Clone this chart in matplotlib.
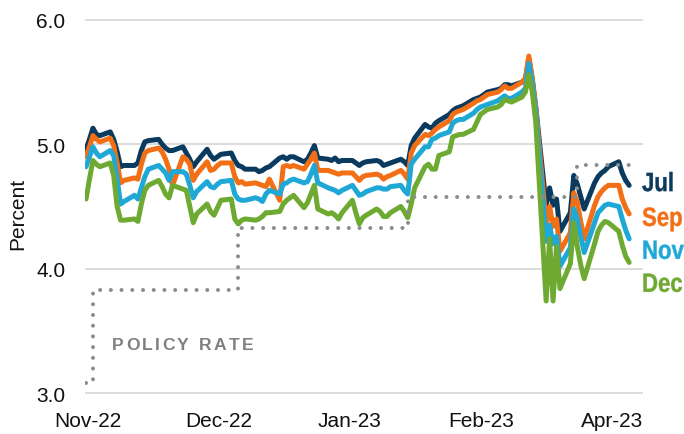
import matplotlib
matplotlib.use("Agg")
import matplotlib.pyplot as plt
import matplotlib.transforms as mtransforms
from matplotlib import font_manager
from matplotlib.font_manager import FontProperties
from matplotlib.textpath import TextPath
from matplotlib.patches import PathPatch
import pandas as pd

#-------------------------------------------------------------------------------
# DATA (fed funds futures implied rate, percent, one value per weekday)
#-------------------------------------------------------------------------------

DATES = pd.bdate_range("2022-10-31", "2023-04-06")

JUL = [4.96, 5.04, 5.13, 5.08, 5.07,
       5.10, 5.04, 4.94, 4.82, 4.83,
       4.83, 4.85, 4.95, 5.02, 5.03,
       5.04, 5.00, 4.97, 4.95, 4.95,
       4.98, 4.93, 4.88, 4.82, 4.86,
       4.96, 4.91, 4.88, 4.90, 4.92,
       4.93, 4.87, 4.83, 4.82, 4.80,
       4.80, 4.78, 4.79, 4.81, 4.82,
       4.89, 4.90, 4.88, 4.90, 4.90,
       4.86, 4.88, 4.93, 4.99, 4.89,
       4.88, 4.87, 4.89, 4.86, 4.87,
       4.87, 4.85, 4.83, 4.85, 4.86,
       4.87, 4.86, 4.83, 4.84, 4.85,
       4.88, 4.86, 4.83, 4.99, 5.05,
       5.16, 5.14, 5.13, 5.17, 5.19,
       5.24, 5.27, 5.29, 5.30, 5.31,
       5.36, 5.37, 5.38, 5.40, 5.42,
       5.44, 5.45, 5.48, 5.48, 5.47,
       5.50, 5.52, 5.69, 5.52, 5.30,
       4.51, 4.65, 4.51, 4.56, 4.30,
       4.45, 4.75, 4.68, 4.58, 4.48,
       4.69, 4.74, 4.77, 4.79, 4.82,
       4.86, 4.77, 4.71, 4.67]

SEP = [4.90, 4.98, 5.07, 5.04, 5.02,
       5.05, 4.99, 4.85, 4.69, 4.71,
       4.73, 4.72, 4.84, 4.93, 4.95,
       4.97, 4.94, 4.88, 4.80, 4.67,
       4.90, 4.88, 4.84, 4.71, 4.76,
       4.86, 4.79, 4.80, 4.83, 4.85,
       4.85, 4.74, 4.69, 4.70, 4.68,
       4.69, 4.68, 4.67, 4.66, 4.72,
       4.55, 4.82, 4.83, 4.82, 4.83,
       4.80, 4.84, 4.88, 4.93, 4.79,
       4.79, 4.78, 4.77, 4.76, 4.77,
       4.77, 4.74, 4.71, 4.74, 4.75,
       4.76, 4.75, 4.72, 4.74, 4.75,
       4.79, 4.76, 4.72, 4.93, 4.99,
       5.08, 5.07, 5.09, 5.12, 5.14,
       5.19, 5.24, 5.26, 5.27, 5.28,
       5.33, 5.35, 5.36, 5.38, 5.40,
       5.42, 5.44, 5.47, 5.45, 5.45,
       5.50, 5.53, 5.71, 5.53, 5.30,
       4.36, 4.50, 4.34, 4.40, 4.14,
       4.29, 4.61, 4.53, 4.38, 4.24,
       4.51, 4.58, 4.62, 4.65, 4.67,
       4.67, 4.56, 4.49, 4.44]

NOV = [4.82, 4.90, 4.98, 4.93, 4.90,
       4.95, 4.91, 4.72, 4.52, 4.54,
       4.59, 4.56, 4.65, 4.74, 4.80,
       4.83, 4.80, 4.77, 4.71, 4.78,
       4.78, 4.76, 4.67, 4.57, 4.62,
       4.70, 4.66, 4.65, 4.68, 4.70,
       4.71, 4.60, 4.56, 4.55, 4.55,
       4.57, 4.56, 4.54, 4.60, 4.63,
       4.60, 4.68, 4.69, 4.71, 4.72,
       4.69, 4.70, 4.76, 4.83, 4.69,
       4.65, 4.64, 4.63, 4.61, 4.63,
       4.67, 4.63, 4.59, 4.60, 4.62,
       4.65, 4.65, 4.64, 4.64, 4.66,
       4.67, 4.63, 4.60, 4.84, 4.88,
       4.98, 4.98, 5.04, 5.05, 5.07,
       5.10, 5.17, 5.19, 5.20, 5.20,
       5.25, 5.28, 5.30, 5.31, 5.32,
       5.35, 5.37, 5.39, 5.37, 5.37,
       5.42, 5.45, 5.65, 5.49, 5.26,
       4.22, 4.35, 4.20, 4.26, 4.02,
       4.17, 4.48, 4.40, 4.26, 4.13,
       4.37, 4.45, 4.48, 4.51, 4.52,
       4.50, 4.40, 4.31, 4.24]

DEC = [4.56, 4.72, 4.87, 4.84, 4.82,
       4.85, 4.75, 4.50, 4.39, 4.39,
       4.40, 4.38, 4.52, 4.63, 4.67,
       4.71, 4.66, 4.60, 4.57, 4.67,
       4.64, 4.63, 4.50, 4.37, 4.44,
       4.52, 4.46, 4.43, 4.49, 4.55,
       4.56, 4.40, 4.36, 4.39, 4.40,
       4.39, 4.40, 4.42, 4.45, 4.45,
       4.46, 4.52, 4.55, 4.57, 4.59,
       4.49, 4.53, 4.60, 4.67, 4.48,
       4.44, 4.45, 4.43, 4.40, 4.45,
       4.55, 4.45, 4.36, 4.41, 4.43,
       4.48, 4.46, 4.42, 4.42, 4.45,
       4.50, 4.46, 4.41, 4.52, 4.65,
       4.82, 4.84, 4.80, 4.80, 4.91,
       4.94, 5.06, 5.07, 5.08, 5.08,
       5.12, 5.18, 5.24, 5.26, 5.28,
       5.30, 5.32, 5.36, 5.35, 5.34,
       5.38, 5.42, 5.56, 5.42, 5.18,
       3.74, 4.24, 3.74, 4.18, 3.84,
       4.04, 4.37, 4.18, 4.03, 3.92,
       4.20, 4.30, 4.35, 4.38, 4.37,
       4.30, 4.19, 4.10, 4.05]

POLICY_DATES = pd.to_datetime(["2022-10-31", "2022-11-02", "2022-12-14",
                               "2023-02-01", "2023-03-22", "2023-04-06"])
POLICY_RATE = [3.08, 3.83, 4.33, 4.58, 4.83, 4.83]

SERIES_NAMES = ["Jul", "Sep", "Nov", "Dec"]
SERIES_COLORS = ["#0b3a5f", "#f36f16", "#1fa7d6", "#6eaa31"]
LABEL_Y = [4.70, 4.42, 4.155, 3.89]

TICK_LABELS = ["Nov-22", "Dec-22", "Jan-23", "Feb-23", "Apr-23"]
TICK_DAYS = [0.6, 38.4, 76.3, 114.2, 152.0]

#-------------------------------------------------------------------------------
# PLOT
#-------------------------------------------------------------------------------

def pick_font(wanted, fallback):
    names = {f.name for f in font_manager.fontManager.ttflist}
    return wanted if wanted in names else fallback

def condensed_label(fig, ax, text, y, color, size=19, squeeze=0.84):
    """Bold label squeezed horizontally (no narrow font installed), left edge
    at the right side of the axes, vertically centred on y (data)."""
    fp = FontProperties(family=plt.rcParams["font.family"][0], weight="bold",
                        size=size)
    path = TextPath((0, 0), text, prop=fp)
    k = fig.dpi / 72.0
    x0, yc = ax.get_yaxis_transform().transform((1.0, y))
    cap = 0.716 * size * k
    tr = mtransforms.Affine2D().scale(squeeze * k, k).translate(x0 - 1, yc - cap / 2)
    patch = PathPatch(path, transform=tr, facecolor=color, edgecolor=color,
                      linewidth=0.3)
    fig.add_artist(patch)

def main():
    base_font = pick_font("Liberation Sans", "DejaVu Sans")
    plt.rcParams["font.family"] = [base_font, "DejaVu Sans"]

    fig = plt.figure(figsize=(6.84, 4.35), dpi=100)
    ax = fig.add_axes([85 / 684, 37 / 435, 558 / 684, 381 / 435])

    start = pd.Timestamp("2022-10-31")
    ax.set_xlim(start - pd.Timedelta(hours=7), start + pd.Timedelta(days=161.0))
    ax.set_ylim(2.968, 6.032)

    # grid only, no spines or tick marks
    for s in ax.spines.values():
        s.set_visible(False)
    ax.set_yticks([3.0, 4.0, 5.0, 6.0])
    ax.set_yticklabels(["3.0", "4.0", "5.0", "6.0"])
    ax.grid(axis="y", color="#d6d6d6", linewidth=1.2)
    ax.set_axisbelow(True)
    ax.set_xticks(start + pd.to_timedelta(TICK_DAYS, unit="D"))
    ax.set_xticklabels(TICK_LABELS)
    ax.tick_params(axis="y", length=0, pad=14, labelsize=15, labelcolor="#111111")
    ax.tick_params(axis="x", length=0, pad=10, labelsize=15, labelcolor="#111111")

    for values, color in zip([JUL, SEP, NOV, DEC], SERIES_COLORS):
        ax.plot(DATES, values, color=color, linewidth=3.6,
                solid_joinstyle="round", solid_capstyle="round")

    # policy rate, dotted step line on top
    ax.plot(POLICY_DATES, POLICY_RATE, drawstyle="steps-post", color="#8c8c8c",
            linewidth=2.9, linestyle=(0, (0.01, 2.65)), dash_capstyle="round")

    # end labels
    for name, color, y in zip(SERIES_NAMES, SERIES_COLORS, LABEL_Y):
        condensed_label(fig, ax, name, y, color)

    # letter-spaced POLICY RATE
    lab_tr = ax.get_yaxis_transform()
    renderer = fig.canvas.get_renderer()
    cursor = 0.0
    for ch in "POLICY RATE":
        tr = mtransforms.offset_copy(lab_tr, fig=fig, x=cursor, y=0, units="dots")
        t = ax.text(0.048, 3.39, ch, transform=tr, color="#808080", fontsize=12.6,
                    fontweight="bold", ha="left", va="center")
        w = t.get_window_extent(renderer).width if ch != " " else 5.0
        cursor += w + 2.4

    fig.text(18 / 684, 1 - 214 / 435, "Percent", rotation=90, fontsize=15,
             color="#111111", ha="center", va="center")

    fig.savefig("out.png", dpi=100)

if __name__ == "__main__":
    main()
